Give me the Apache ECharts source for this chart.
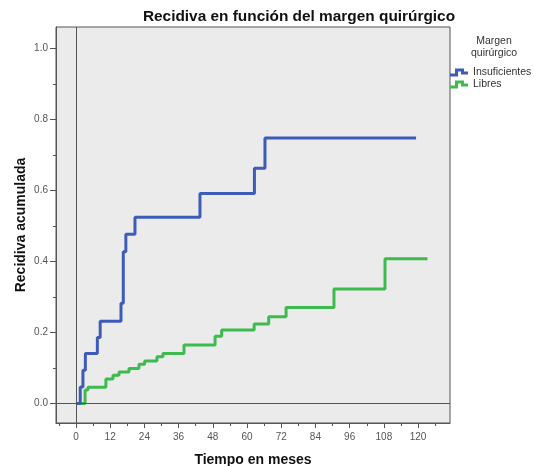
<!DOCTYPE html>
<html>
<head>
<meta charset="utf-8">
<script src="https://cdn.jsdelivr.net/npm/echarts@6/dist/echarts.min.js"></script>
<style>html,body{margin:0;padding:0;background:#fff;}#c{width:534px;height:466px;}</style>
</head>
<body>
<div id="c"></div>
<script>
// ---- data ----
const insufTimes  = [0, 1.5, 2.45, 3.3, 7.5, 8.5, 15.8, 16.6, 17.5, 20.7, 43.5, 62.6, 66.3, 119.3];
const insufValues = [0, 0.047, 0.094, 0.141, 0.186, 0.232, 0.283, 0.428, 0.477, 0.525, 0.592, 0.663, 0.748, 0.748];
const libresTimes  = [0, 3.2, 4.2, 10.5, 13.0, 15.1, 18.6, 22.1, 24.1, 28.4, 30.5, 37.9, 48.8, 51.1, 62.5, 67.6, 73.7, 90.5, 108.4, 123.3];
const libresValues = [0, 0.038, 0.046, 0.069, 0.080, 0.089, 0.099, 0.111, 0.120, 0.132, 0.141, 0.165, 0.190, 0.207, 0.224, 0.245, 0.271, 0.323, 0.408, 0.408];
const xMajorTicks = [0, 12, 24, 36, 48, 60, 72, 84, 96, 108, 120];
const xMinorTicks = [-6, 6, 18, 30, 42, 54, 66, 78, 90, 102, 114, 126];
const yMajorTicks = [0, 0.2, 0.4, 0.6, 0.8, 1.0];
const yMinorTicks = [0.1, 0.3, 0.5, 0.7, 0.9];
const seriesNames = ['Insuficientes', 'Libres'];
const titleText = 'Recidiva en función del margen quirúrgico';
const legendTitle = 'Margen\nquirúrgico';
const xName = 'Tiempo en meses';
const yName = 'Recidiva acumulada';

const FONT = '"Liberation Sans", Arial, sans-serif';
const AX = '#555';
const xMin = -7, xMax = 131.2, yMin = -0.0547, yMax = 1.061;

function pairs(t, v) { return t.map((x, i) => [x, v[i]]); }

const iconPath = 'path://M0,5 L5,5 L5,0 L14,0 L14,3 L18,3 L18,6 L11,6 L11,3 L8,3 L8,8 L0,8 Z';

const chart = echarts.init(document.getElementById('c'), null, {renderer: 'canvas'});
chart.setOption({
  animation: false,
  backgroundColor: '#fff',
  textStyle: {fontFamily: FONT},
  graphic: [
    {type: 'text', x: 299, y: 17, z: 10, style: {text: titleText, textAlign: 'center', textVerticalAlign: 'middle', font: 'bold 15.4px ' + FONT, fill: '#111'}},
    {type: 'text', x: 494, y: 47, z: 10, style: {text: legendTitle, textAlign: 'center', textVerticalAlign: 'middle', font: '10.5px ' + FONT, fill: '#333', lineHeight: 12}}
  ],
  legend: {
    orient: 'vertical', left: 450, top: 67, itemWidth: 18, itemHeight: 8, itemGap: 1, padding: 0,
    textStyle: {fontSize: 10.5, color: '#333', fontFamily: FONT},
    data: [{name: seriesNames[0], icon: iconPath, itemStyle: {color: '#3d5cb8', borderWidth: 0}},
           {name: seriesNames[1], icon: iconPath, itemStyle: {color: '#3dbb4e', borderWidth: 0}}]
  },
  grid: {left: 56, right: 84, top: 27, bottom: 43, containLabel: false, outerBoundsMode: 'none',
         show: true, backgroundColor: '#ebebeb', borderColor: AX, borderWidth: 1},
  xAxis: [
    {type: 'value', min: xMin, max: xMax, position: 'bottom',
     name: xName, nameLocation: 'middle', nameGap: 30, nameMoveOverlap: false,
     nameTextStyle: {fontWeight: 'bold', fontSize: 14, color: '#111', fontFamily: FONT},
     axisLine: {show: true, onZero: false, lineStyle: {color: AX, width: 1}},
     axisTick: {show: true, customValues: xMajorTicks, length: 5, lineStyle: {color: AX}},
     axisLabel: {show: true, customValues: xMajorTicks, margin: 9, fontSize: 10, color: AX, fontFamily: FONT},
     splitLine: {show: false}},
    {type: 'value', min: xMin, max: xMax, position: 'bottom', offset: 0,
     axisLine: {show: false, onZero: false},
     axisTick: {show: true, customValues: xMinorTicks, length: 3, lineStyle: {color: AX}},
     axisLabel: {show: false}, splitLine: {show: false}}
  ],
  yAxis: [
    {type: 'value', min: yMin, max: yMax, position: 'left',
     name: yName, nameLocation: 'middle', nameGap: 28, nameMoveOverlap: false,
     nameTextStyle: {fontWeight: 'bold', fontSize: 14, color: '#111', fontFamily: FONT},
     axisLine: {show: true, onZero: false, lineStyle: {color: AX, width: 1}},
     axisTick: {show: true, customValues: yMajorTicks, length: 6, lineStyle: {color: AX}},
     axisLabel: {show: true, customValues: yMajorTicks, margin: 8, fontSize: 10, color: AX, fontFamily: FONT,
                 formatter: v => Number(v).toFixed(1)},
     splitLine: {show: false}},
    {type: 'value', min: yMin, max: yMax, position: 'left', offset: 0,
     axisLine: {show: false, onZero: false},
     axisTick: {show: true, customValues: yMinorTicks, length: 3, lineStyle: {color: AX}},
     axisLabel: {show: false}, splitLine: {show: false}}
  ],
  series: [
    {type: 'line', name: '_ref', data: [[0, 0]], showSymbol: false, symbol: 'none', z: 1,
     lineStyle: {opacity: 0}, silent: true, legendHoverLink: false,
     markLine: {silent: true, symbol: ['none', 'none'], label: {show: false},
                lineStyle: {color: AX, width: 1, type: 'solid'},
                data: [{xAxis: 0}, {yAxis: 0}]}},
    {type: 'line', name: seriesNames[1], data: pairs(libresTimes, libresValues), step: 'end',
     showSymbol: false, symbol: 'none', z: 3, color: '#3dbb4e', lineStyle: {width: 3, color: '#3dbb4e'}},
    {type: 'line', name: seriesNames[0], data: pairs(insufTimes, insufValues), step: 'end',
     showSymbol: false, symbol: 'none', z: 4, color: '#3d5cb8', lineStyle: {width: 3, color: '#3d5cb8'}}
  ]
});
</script>
</body>
</html>
